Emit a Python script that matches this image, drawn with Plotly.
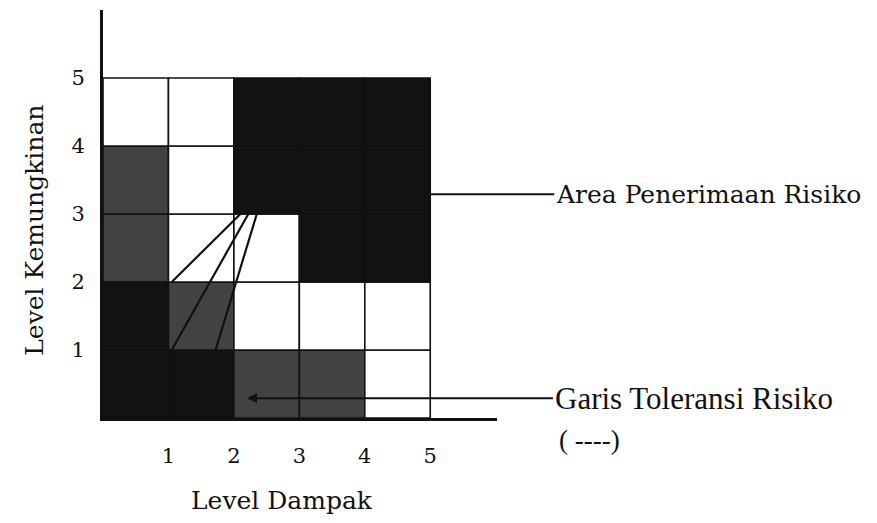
import plotly.graph_objects as go

# ---- data ----
impact_ticks = [1, 2, 3, 4, 5]
likelihood_ticks = [1, 2, 3, 4, 5]
impact_labels = ["1", "2", "3", "4", "5"]
likelihood_labels = ["1", "2", "3", "4", "5"]

# zone of each cell; rows = likelihood 1..5 (bottom to top), columns = impact 1..5
zone_rows = [
    ["B", "B", "G", "G", "W"],
    ["B", "G", "W", "W", "W"],
    ["G", "W", "W", "B", "B"],
    ["G", "W", "B", "B", "B"],
    ["W", "W", "B", "B", "B"],
]
zone_colors = {"W": "#ffffff", "G": "#424242", "B": "#121212"}

# tolerance fan lines (start -> end)
fan_x = [[2.1, 1.05], [2.22, 1.05], [2.35, 1.72]]
fan_y = [[3.0, 2.0], [3.0, 1.0], [3.0, 1.0]]

x_title = "Level Dampak"
y_title = "Level Kemungkinan"
area_label = "Area Penerimaan Risiko"
tol_label = "Garis Toleransi Risiko"
tol_sub = "( ----)"

SERIF = "DejaVu Serif"
SERIF2 = "Liberation Serif"

fig = go.Figure()

shapes = []
for i, row in enumerate(zone_rows):
    for j, z in enumerate(row):
        shapes.append(dict(
            type="rect", xref="x", yref="y",
            x0=j, x1=j + 1, y0=i, y1=i + 1,
            fillcolor=zone_colors[z],
            line=dict(color="#111111", width=1.6),
            layer="below",
        ))

for xs, ys in zip(fan_x, fan_y):
    fig.add_trace(go.Scatter(
        x=xs, y=ys, mode="lines",
        line=dict(color="#111111", width=2.2),
        hoverinfo="skip", showlegend=False,
    ))

annotations = [
    dict(x=5.0, y=3.29, xref="x", yref="y", text=area_label,
         showarrow=True, ax=124, ay=0, arrowhead=0, arrowwidth=2,
         arrowcolor="#111111", xanchor="left",
         font=dict(family=SERIF, size=25, color="#111111")),
    dict(x=2.2, y=0.29, xref="x", yref="y", text=tol_label,
         showarrow=True, ax=306, ay=0, arrowhead=2, arrowsize=1,
         arrowwidth=2, arrowcolor="#111111", xanchor="left",
         font=dict(family=SERIF2, size=31, color="#111111")),
    dict(x=1.152, y=-0.054, xref="paper", yref="paper", text=tol_sub,
         showarrow=False, xanchor="left", yanchor="middle",
         font=dict(family=SERIF2, size=27, color="#111111")),
    dict(x=0.454, y=-0.201, xref="paper", yref="paper", text=x_title,
         showarrow=False, xanchor="center", yanchor="middle",
         font=dict(family=SERIF, size=25, color="#111111")),
    dict(x=-0.173, y=0.461, xref="paper", yref="paper", text=y_title,
         textangle=-90, showarrow=False, xanchor="center", yanchor="middle",
         font=dict(family=SERIF, size=25, color="#111111")),
]

fig.update_layout(
    width=877, height=523,
    margin=dict(l=103, r=380, t=10, b=105),
    paper_bgcolor="white", plot_bgcolor="white",
    shapes=shapes, annotations=annotations,
    showlegend=False,
)
fig.update_xaxes(
    range=[0, 6.02], tickvals=impact_ticks, ticktext=impact_labels,
    showgrid=False, zeroline=False, showline=True, linecolor="#111111",
    linewidth=3, ticks="", ticklabelstandoff=17,
    tickfont=dict(family=SERIF, size=21, color="#111111"),
    fixedrange=True,
)
fig.update_yaxes(
    range=[0, 6], tickvals=likelihood_ticks, ticktext=likelihood_labels,
    showgrid=False, zeroline=False, showline=True, linecolor="#111111",
    linewidth=3, ticks="", ticklabelstandoff=11,
    tickfont=dict(family=SERIF, size=21, color="#111111"),
    fixedrange=True,
)

fig.write_html("out.html", config={"displayModeBar": False},
               post_script="document.body.style.margin='0px';")
